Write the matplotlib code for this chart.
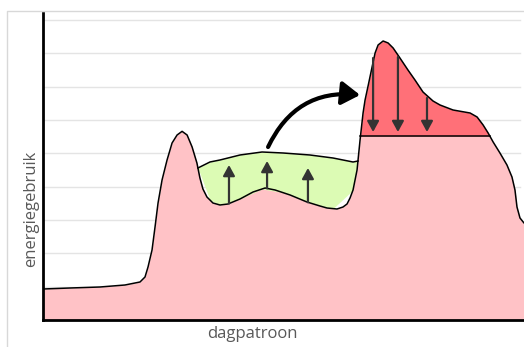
import numpy as np
import matplotlib
matplotlib.use("Agg")
import matplotlib.pyplot as plt
from matplotlib.patches import FancyArrowPatch
from matplotlib.lines import Line2D

# ---- data (hours of the day, energy in grid units) ----
base_x = [0.00, 1.35, 2.84, 4.09, 4.84, 5.09, 5.24, 5.44, 5.59, 5.74,
          5.94, 6.19, 6.44, 6.69, 6.94, 7.19, 7.44, 7.68, 7.83, 7.98,
          8.18, 8.48, 8.83, 9.23, 9.83, 10.48, 11.08, 11.58, 12.33, 13.17,
          13.82, 14.17, 14.67, 14.97, 15.17, 15.32, 15.47, 15.57, 15.67, 15.72,
          15.82, 15.97, 16.07, 16.22, 16.42, 16.57, 16.72, 16.97, 17.22, 17.47,
          17.81, 18.21, 18.56, 18.96, 19.46, 19.81, 20.46, 21.31, 21.66, 21.96,
          22.21, 22.46, 22.80, 23.15, 23.40, 23.55, 23.65, 23.80, 24.00, 24.30]
base_y = [0.93, 0.96, 0.99, 1.05, 1.14, 1.29, 1.59, 2.10, 2.79, 3.51,
          4.20, 4.80, 5.31, 5.55, 5.66, 5.55, 5.19, 4.71, 4.26, 3.93,
          3.69, 3.51, 3.45, 3.48, 3.63, 3.84, 3.96, 3.90, 3.75, 3.54,
          3.42, 3.36, 3.33, 3.39, 3.48, 3.66, 3.90, 4.20, 4.50, 4.80,
          5.40, 6.21, 6.60, 7.02, 7.59, 8.01, 8.25, 8.37, 8.31, 8.16,
          7.86, 7.50, 7.20, 6.84, 6.57, 6.45, 6.30, 6.21, 6.09, 5.85,
          5.61, 5.34, 5.01, 4.65, 4.29, 3.90, 3.39, 3.06, 2.91, 2.82]

shift_x = [7.73, 8.33, 8.83, 9.83, 10.93, 11.98, 13.32, 14.47, 15.47, 15.72]
shift_y = [4.56, 4.74, 4.80, 4.95, 5.04, 5.01, 4.95, 4.86, 4.74, 4.77]

cap_level = 5.52
cap_range = (15.84, 22.29)

up_x = [9.28, 11.18, 13.22]
up_top = [4.65, 4.77, 4.56]
down_x = [16.47, 17.71, 19.16]
down_start = [7.86, 7.89, 6.66]
down_end = [5.64, 5.64, 5.64]

move_start = (11.23, 5.19)
move_end = (15.82, 6.75)

xlabel = "dagpatroon"
ylabel = "energiegebruik"

# ---- colours ----
pink = "#ffc2c6"
red = "#ff7078"
green = "#dcfbb4"
arrow_col = "#333333"
text_col = "#595959"

W, H = 524, 347
fig = plt.figure(figsize=(W / 100, H / 100), dpi=100)
ax = fig.add_axes([43 / W, (H - 320) / H, (W - 43) / W, (320 - 13) / H])
ax.set_xlim(0, 24)
ax.set_ylim(0, 9.21)

bx = np.array(base_x)
by = np.array(base_y)

# grid
for g in range(1, 10):
    ax.plot([0, 23.8], [g, g], color="#e4e4e4", lw=1.0, zorder=0)

# pink base fill, with red cap region above cap level
in_cap = (bx >= cap_range[0] - 0.2) & (bx <= cap_range[1] + 0.2)
ax.fill_between(bx, 0, by, color=pink, lw=0, zorder=1)
ax.fill_between(bx, cap_level, by, where=in_cap & (by >= cap_level),
                interpolate=True, color=red, lw=0, zorder=2)

# green shifted region
sx = np.array(shift_x)
sy = np.array(shift_y)
sb = np.interp(sx, bx, by)
ax.fill_between(sx, sb, np.maximum(sy, sb), color=green, lw=0, zorder=2)

# outlines
ax.plot(bx, by, color="black", lw=1.1, zorder=3, solid_joinstyle="round")
ax.plot(sx, sy, color="black", lw=1.1, zorder=3, solid_joinstyle="round")
ax.plot(list(cap_range), [cap_level, cap_level], color="black", lw=1.1, zorder=3)

# up arrows
for x, t in zip(up_x, up_top):
    y0 = float(np.interp(x, bx, by))
    ax.add_patch(FancyArrowPatch((x, y0), (x, t), arrowstyle="-|>,head_length=4,head_width=2.2",
                                 mutation_scale=1.6, color=arrow_col, lw=1.6,
                                 shrinkA=0, shrinkB=0, zorder=4))
# down arrows
for x, s, e in zip(down_x, down_start, down_end):
    ax.add_patch(FancyArrowPatch((x, s), (x, e), arrowstyle="-|>,head_length=4,head_width=2.2",
                                 mutation_scale=1.6, color=arrow_col, lw=1.6,
                                 shrinkA=0, shrinkB=0, zorder=4))

# curved move arrow
ax.add_patch(FancyArrowPatch(move_start, move_end, connectionstyle="arc3,rad=-0.35",
                             arrowstyle="-|>,head_length=5,head_width=3.2",
                             mutation_scale=2.2, color="black", lw=3.0,
                             shrinkA=0, shrinkB=0, zorder=4))

# spines
for s in ["top", "right"]:
    ax.spines[s].set_visible(False)
for s in ["left", "bottom"]:
    ax.spines[s].set_linewidth(2.0)
    ax.spines[s].set_color("black")
    ax.spines[s].set_zorder(5)
ax.set_xticks([])
ax.set_yticks([])
ax.patch.set_alpha(0)

# outer frame
fig.add_artist(Line2D([7 / W, 7 / W, 1.0], [0, (H - 11) / H, (H - 11) / H],
                      color="#d8d8d8", lw=1.0, transform=fig.transFigure))

fig.text(252 / W, (H - 334) / H, xlabel, ha="center", va="center",
         fontsize=12, color=text_col, family="Open Sans")
fig.text(31 / W, (H - 209) / H, ylabel, ha="center", va="center", rotation=90,
         fontsize=12, color=text_col, family="Open Sans")

fig.savefig("out.png", dpi=100)
